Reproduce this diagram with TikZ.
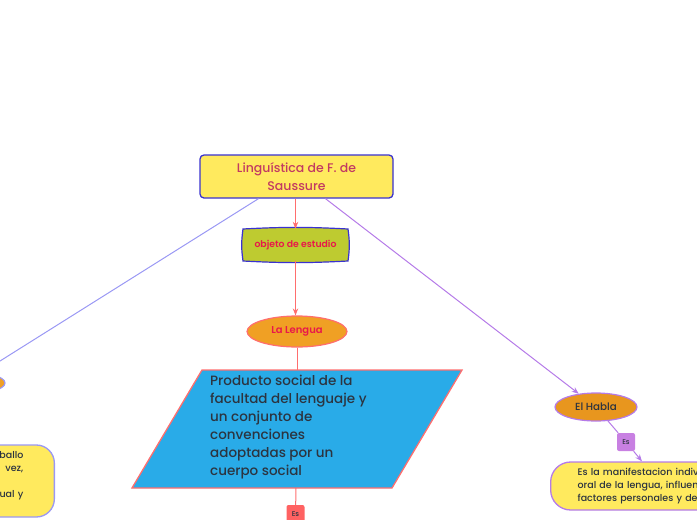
\documentclass[tikz,border=0pt]{standalone}
\usepackage{fontspec}
\setmainfont{Poppins}[UprightFont={* Medium}, BoldFont={* SemiBold}]
\usetikzlibrary{arrows.meta,positioning,shapes.geometric}

\definecolor{topicyellow}{HTML}{FFEA5E}
\definecolor{titleblue}{HTML}{3A32D0}
\definecolor{titlerose}{HTML}{C23A62}
\definecolor{oliveobj}{HTML}{BECB30}
\definecolor{hotred}{HTML}{E8184A}
\definecolor{lenguaorange}{HTML}{F0A024}
\definecolor{hablaorange}{HTML}{E8961E}
\definecolor{salmon}{HTML}{FF6E6E}
\definecolor{skyblue}{HTML}{29ABE8}
\definecolor{inkgrey}{HTML}{2C3440}
\definecolor{lilac}{HTML}{B57BE8}
\definecolor{lilacfill}{HTML}{C880E2}
\definecolor{periwinkle}{HTML}{9A98F4}
\definecolor{esred}{HTML}{FF6262}

\begin{document}
\begin{tikzpicture}[x=1pt,y=-1pt,
    redline/.style={salmon, line width=1pt},
    lilacline/.style={lilac, line width=1pt},
    periline/.style={periwinkle, line width=1pt},
    tip/.style={-{Stealth[length=7pt,width=5.5pt]}},
    titlebox/.style={draw=titleblue, fill=topicyellow, line width=1.3pt, rounded corners=4pt,
        minimum width=193pt, minimum height=43pt, align=center, text=titlerose,
        font=\fontsize{12.5}{18}\selectfont},
    bubble/.style={ellipse, line width=1.2pt, inner sep=0pt},
    esbox/.style={rounded corners=2pt, minimum width=18pt, minimum height=18pt, inner sep=0pt,
        text=inkgrey, font=\fontsize{7}{8}\selectfont},
    notebox/.style={draw=lilac, fill=topicyellow, line width=1.3pt, rounded corners=20pt,
        minimum height=48pt, align=left, text=inkgrey, font=\fontsize{9.5}{13}\selectfont}
]
\useasboundingbox (0,0) rectangle (697,520);
\clip (0,0) rectangle (697,520);

% main topic
\node[titlebox] (title) at (296.5,176.5) {Linguística de F. de\\Saussure};

% objeto de estudio (bulged outline)
\path[fill=oliveobj, draw=titleblue, line width=1.2pt]
    (243,229) to[bend left=3] (348,229) to[bend left=8] (348,261)
    to[bend left=3] (243,261) to[bend left=8] cycle;
\node[minimum width=105pt, minimum height=32pt, text=hotred,
    font=\bfseries\fontsize{9.3}{10}\selectfont] (obj) at (295.5,245) {objeto de estudio};

\node[bubble, draw=salmon, fill=lenguaorange, minimum width=100pt, minimum height=31pt,
    text=hotred, font=\bfseries\fontsize{10}{10}\selectfont] (lengua) at (297,331.5) {La Lengua};

% parallelogram
\path[fill=skyblue, draw=salmon, line width=1.3pt]
    (202,370) -- (462,370) -- (392,488) -- (132,488) -- cycle;
\coordinate (prodtop) at (297,370);
\coordinate (prodbot) at (296,488);
\node[anchor=north west, align=left, inner sep=0pt, text=inkgrey,
    font=\fontsize{13.5}{18}\selectfont] (prod) at (210,375)
    {Producto social de la\\facultad del lenguaje y\\un conjunto de\\convenciones\\adoptadas por un\\cuerpo social};

\node[esbox, fill=esred] (es1) at (295.5,514) {Es};

% El Habla branch
\node[bubble, draw=lilac, fill=hablaorange, minimum width=82pt, minimum height=28pt,
    text=inkgrey, font=\fontsize{10.3}{10}\selectfont] (habla) at (596,407) {El Habla};
\node[esbox, fill=lilacfill] (es2) at (626,442) {Es};
\node[notebox, anchor=west, inner xsep=27pt, text width=260pt] (manif) at (550,486)
    {Es la manifestacion individual\\oral de la lengua, influenciada\\factores personales y del};

% left branch
\node[bubble, draw=periwinkle, fill=lenguaorange, minimum width=80pt, minimum height=23pt] (leftell) at (-35,383) {};
\node[notebox, draw=periwinkle, anchor=east, rounded corners=18pt, minimum height=72pt,
    inner xsep=31pt, text width=168pt, align=right] (leftbox) at (55,481)
    {ballo\\vez,\\~\\ual y\\~};

% connectors
\draw[redline, tip] (title.south -| obj) -- (obj.north);
\draw[redline, tip] (obj.south) -- (lengua.north -| obj);
\draw[redline] (lengua) -- (prodtop);
\draw[redline] (prodbot) -- (es1);
\draw[lilacline, tip] ([xshift=29pt]title.south) -- (habla);
\draw[lilacline] (habla) -- (es2);
\draw[lilacline, tip] (es2) -- ([xshift=92pt]manif.north west);
\draw[periline, tip] ([xshift=-38pt]title.south) -- (leftell);
\end{tikzpicture}
\end{document}
